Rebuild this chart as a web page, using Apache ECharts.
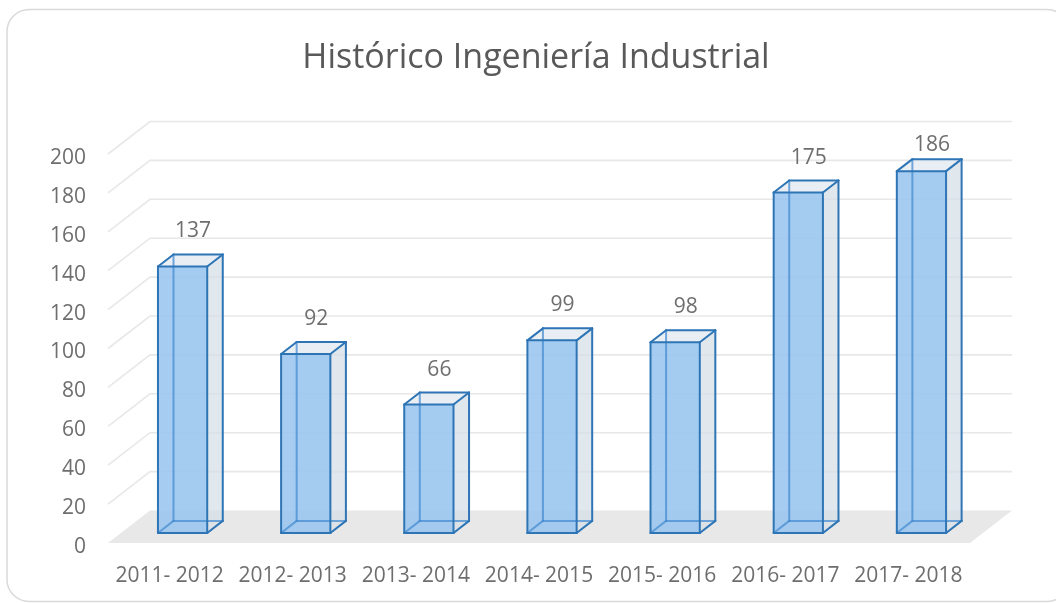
<!DOCTYPE html>
<html>
<head>
<meta charset="utf-8">
<script src="https://cdn.jsdelivr.net/npm/echarts@6/dist/echarts.min.js"></script>
<style>
  html, body { margin: 0; padding: 0; background: #ffffff; }
  #chart { width: 1056px; height: 603px; }
</style>
</head>
<body>
<div id="chart"></div>
<script>
const categories = ['2011- 2012', '2012- 2013', '2013- 2014', '2014- 2015', '2015- 2016', '2016- 2017', '2017- 2018'];
const values = [137, 92, 66, 99, 98, 175, 186];
const yTicks = [0, 20, 40, 60, 80, 100, 120, 140, 160, 180, 200];

// fake 3d: offset from the front edge of the floor to the back wall
const depth = { dx: 42, dy: -32.5 };
const barDepth = [0.31, 0.68];
const barWidthRatio = 0.4;
const textColor = '#6e6e6e';
const font = '"Open Sans", sans-serif';

function shift(p, f) {
  return [p[0] + depth.dx * f, p[1] + depth.dy * f];
}

function poly(points, style) {
  return { type: 'polygon', shape: { points: points }, style: style };
}

function line(a, b, color, width) {
  return {
    type: 'line',
    shape: { x1: a[0], y1: a[1], x2: b[0], y2: b[1] },
    style: { stroke: color, lineWidth: width, lineCap: 'round' }
  };
}

// floor + gridlines on the back wall
function renderWalls(params, api) {
  const band = api.size([1, 0])[0];
  const v = api.value(1);
  const p = api.coord([0, v]);
  const xl = p[0] - band / 2;
  const xr = api.coord([categories.length - 1, v])[0] + band / 2;
  if (v === 0) {
    return poly([[xl, p[1]], [xr, p[1]], shift([xr, p[1]], 1), shift([xl, p[1]], 1)], { fill: '#e8e8e8' });
  }
  return {
    type: 'polyline',
    shape: { points: [[xl, p[1]], shift([xl, p[1]], 1), shift([xr, p[1]], 1)] },
    style: { stroke: '#e8e8e8', lineWidth: 1.6, fill: null }
  };
}

function renderBox(params, api) {
  const i = api.value(0);
  const v = api.value(1);
  const band = api.size([1, 0])[0];
  const base = api.coord([i, 0]);
  const top = api.coord([i, v]);
  const w = band * barWidthRatio;
  const x0 = base[0] - w / 2;
  const x1 = base[0] + w / 2;
  const f = barDepth[0], b = barDepth[1];
  const fbl = shift([x0, base[1]], f), fbr = shift([x1, base[1]], f);
  const ftl = shift([x0, top[1]], f), ftr = shift([x1, top[1]], f);
  const bbl = shift([x0, base[1]], b), bbr = shift([x1, base[1]], b);
  const btl = shift([x0, top[1]], b), btr = shift([x1, top[1]], b);
  const edge = '#2e75b6';
  const hidden = 'rgba(70,140,210,0.75)';

  const plotTop = api.coord([0, 200])[1] + depth.dy;
  const labelY = Math.max(btl[1] - 23, plotTop + 24);
  const labelX = (fbl[0] + fbr[0]) / 2 + depth.dx * 0.25;

  return {
    type: 'group',
    children: [
      poly([bbl, bbr, btr, btl], { fill: 'rgba(215,223,232,0.35)' }),
      poly([fbr, bbr, btr, ftr], { fill: 'rgba(214,222,230,0.6)' }),
      poly([ftl, ftr, btr, btl], { fill: 'rgba(230,236,242,0.85)' }),
      poly([fbl, fbr, ftr, ftl], { fill: 'rgba(150,196,238,0.85)' }),
      line(bbl, btl, hidden, 2),
      line(bbl, bbr, hidden, 2),
      line(fbl, bbl, hidden, 2),
      line(fbl, fbr, edge, 2),
      line(fbr, ftr, edge, 2),
      line(ftr, ftl, edge, 2),
      line(ftl, fbl, edge, 2),
      line(ftl, btl, edge, 2),
      line(btl, btr, edge, 2),
      line(btr, ftr, edge, 2),
      line(fbr, bbr, edge, 2),
      line(bbr, btr, edge, 2),
      {
        type: 'text',
        style: {
          text: String(v), x: labelX, y: labelY,
          fill: textColor, font: '21px ' + font,
          align: 'center', verticalAlign: 'middle'
        }
      }
    ]
  };
}

const chart = echarts.init(document.getElementById('chart'));

const option = {
  backgroundColor: '#ffffff',
  animation: false,
  title: {
    text: 'Histórico Ingeniería Industrial',
    left: 536,
    textAlign: 'center',
    top: 41,
    padding: 0,
    textStyle: { fontSize: 34, fontWeight: 'normal', color: '#595959', fontFamily: font }
  },
  graphic: [{
    type: 'rect',
    z: -10,
    shape: { x: 7, y: 9.5, width: 1062, height: 592, r: 22 },
    style: { fill: null, stroke: '#d9d9d9', lineWidth: 1.5 }
  }],
  grid: { left: 108, right: 86, top: 154, bottom: 60 },
  xAxis: {
    type: 'category',
    data: categories,
    axisLine: { show: false },
    axisTick: { show: false },
    axisLabel: { interval: 0, fontSize: 21, color: textColor, fontFamily: font, margin: 23 }
  },
  yAxis: {
    type: 'value',
    min: 0,
    max: 200,
    interval: 20,
    axisLine: { show: false },
    axisTick: { show: false },
    splitLine: { show: false },
    axisLabel: {
      fontSize: 21, color: textColor, fontFamily: font, margin: 22,
      verticalAlign: 'top', lineHeight: 8
    }
  },
  series: [
    {
      type: 'custom',
      name: 'walls',
      z: 1,
      silent: true,
      renderItem: renderWalls,
      data: yTicks.map(v => [0, v])
    },
    {
      type: 'custom',
      name: 'Histórico',
      z: 2,
      renderItem: renderBox,
      data: values.map((v, i) => [i, v])
    }
  ]
};

chart.setOption(option);
</script>
</body>
</html>
